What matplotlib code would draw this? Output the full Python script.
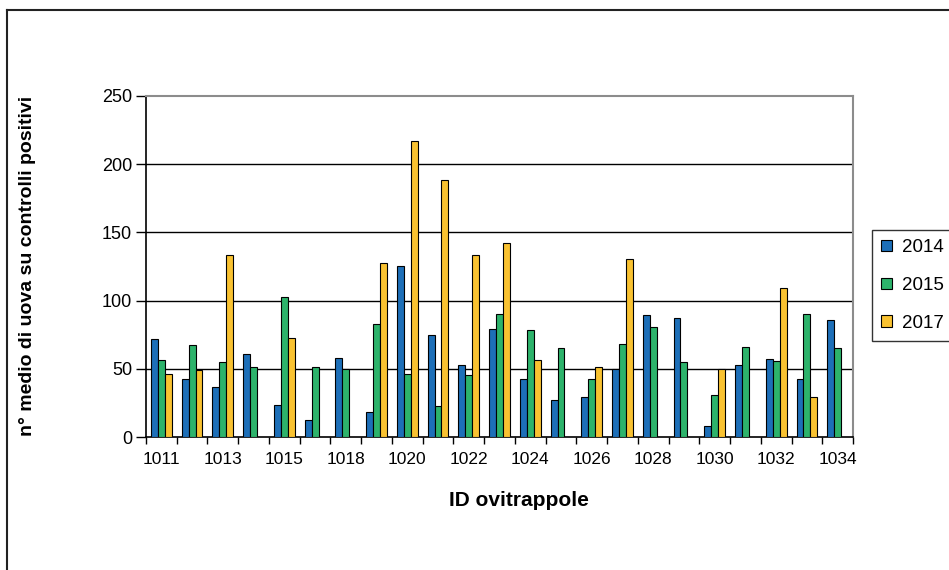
import numpy as np
import matplotlib.pyplot as plt
from matplotlib.lines import Line2D

# ovitrap IDs (one group each) and mean egg counts per year; nan = no bar
traps = ['1011', '1012', '1013', '1014', '1015', '1016', '1018', '1019',
         '1020', '1021', '1022', '1023', '1024', '1025', '1026', '1027',
         '1028', '1029', '1030', '1031', '1032', '1033', '1034']
nan = np.nan
eggs_2014 = [71.5, 42.8, 36.7, 61.2, 23.3, 12.3, 58.0, 18.4,
             125.5, 74.6, 52.6, 79.5, 42.8, 26.9, 29.4, 49.5,
             89.3, 86.9, 8.1, 52.6, 57.5, 42.8, 86.1]
eggs_2015 = [56.3, 67.3, 55.0, 51.4, 102.3, 51.4, 49.5, 83.2,
             46.5, 22.7, 45.3, 90.5, 78.8, 64.9, 42.8, 68.5,
             80.7, 55.0, 30.6, 66.0, 55.8, 90.5, 64.9]
eggs_2017 = [46.5, 48.9, 133.3, nan, 72.6, nan, nan, 127.2,
             217.0, 188.4, 133.3, 141.9, 56.3, nan, 51.4, 130.4,
             nan, nan, 49.7, nan, 109.6, 29.4, nan]
years = ['2014', '2015', '2017']
colors = ['#1d6fb8', '#2db36b', '#f9c231']

plt.rcParams['font.family'] = ['Liberation Sans', 'DejaVu Sans']

fig = plt.figure(figsize=(9.49, 5.70), dpi=100)
ax = fig.add_axes([146 / 949, 1 - 437 / 570, 707 / 949, 341 / 570])

x = np.arange(len(traps))
w = 0.225
for k, (vals, col, lab) in enumerate(zip([eggs_2014, eggs_2015, eggs_2017], colors, years)):
    ax.bar(x + (k - 1) * w, vals, w, color=col, edgecolor='black',
           linewidth=0.8, label=lab, zorder=3)

ax.set_xlim(-0.5, len(traps) - 0.5)
ax.set_ylim(0, 250)
ax.set_yticks(range(0, 251, 50))
for yv in range(50, 250, 50):
    ax.axhline(yv, color='black', linewidth=1.0, zorder=1)

ax.set_xticks(x[::2])
ax.set_xticklabels(traps[::2])
ax.set_xticks(np.arange(-0.5, len(traps), 1), minor=True)
ax.tick_params(axis='x', which='major', length=0, labelsize=12.5, pad=11)
ax.tick_params(axis='x', which='minor', length=5, width=1, direction='out')
ax.tick_params(axis='y', length=7, width=1, direction='out', labelsize=13, pad=3)

for s in ['left', 'bottom']:
    ax.spines[s].set_color('black')
    ax.spines[s].set_linewidth(1.2)
for s in ['top', 'right']:
    ax.spines[s].set_color('#8c8c8c')
    ax.spines[s].set_linewidth(1.5)

fig.text(28 / 949, 1 - 266 / 570, 'n° medio di uova su controlli positivi',
         rotation=90, ha='center', va='center', fontsize=14, fontweight='bold')
fig.text(519 / 949, 1 - 500 / 570, 'ID ovitrappole',
         ha='center', va='center', fontsize=15, fontweight='bold')

# legend box runs past the right edge of the figure
leg = ax.legend(loc='upper left', bbox_to_anchor=(872 / 949, 1 - 230 / 570),
                bbox_transform=fig.transFigure, fontsize=13.5, frameon=True,
                fancybox=False, edgecolor='black', handlelength=0.55,
                handleheight=0.55, handletextpad=0.55, labelspacing=1.1,
                borderpad=0.5, borderaxespad=0)
leg.get_frame().set_linewidth(1.0)

# outer frame: only the top and left edges fall inside the image
fig.add_artist(Line2D([7 / 949, 7 / 949], [0, 1 - 10 / 570], color='#222222',
                      linewidth=1.5, transform=fig.transFigure))
fig.add_artist(Line2D([7 / 949, 1], [1 - 10 / 570, 1 - 10 / 570], color='#222222',
                      linewidth=1.5, transform=fig.transFigure))

fig.savefig('out.png', dpi=100)
